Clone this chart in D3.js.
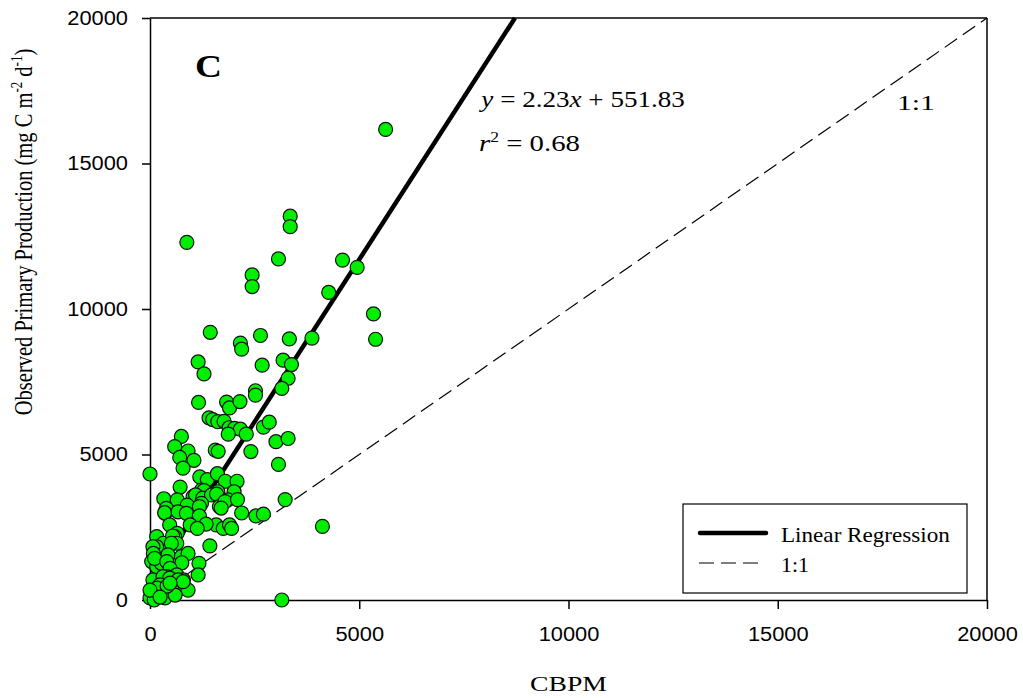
<!DOCTYPE html>
<html>
<head>
<meta charset="utf-8">
<script src="https://cdn.jsdelivr.net/npm/d3@7"></script>
<style>
  html, body { margin: 0; padding: 0; background: #fff; }
  svg { display: block; }
</style>
</head>
<body>
<svg id="chart" width="1023" height="698"></svg>
<script>
// ---- data ----
const cbpm = [
  5630, 880, 3350, 3350, 2440, 2440, 3070, 4600, 4950, 4270,
  5340, 5390, 1440, 2160, 2190, 2640, 3330, 3870, 1150, 1290,
  2680, 3180, 3380, 3300, 3150, 2520, 2520, 1160, 1830, 1900,
  2150, 1410, 1500, 1620, 1770, 1890, 2020, 2160, 2300, 1870,
  2710, 2850, 750, 590, 910, 710, 1050, 790, 1560, 1630,
  2410, 3010, 3300, 3070, 0, 1190, 1370, 1610, 1800, 2080,
  1230, 1290, 1620, 2010, 720, 330, 650, 1030, 1090, 1260,
  1470, 1590, 890, 1230, 1180, 1660, 1860, 1790, 2090, 390,
  360, 1700, 2190, 2530, 2710, 3230, 4120, 350, 670, 870,
  1180, 1580, 1750, 1900, 1950, 960, 1340, 470, 650, 590,
  1130, 1430, 3150, 160, 320, 160, 540, 640, 70, 510,
  430, 750, 910, 760, 1170, 1150, 80, 40, 160, 270,
  110, 400, 480, 640, 400, 800, 720, 910, 70, 310,
  470, 670, 790, 50, 120, 190, 310, 430, 530, 240,
  0, 100, 360, 600, 170, 410, 0, 240, 480
];
const observed = [
  16170, 12290, 13190, 12830, 11170, 10770, 11720, 11680, 11430, 10570,
  9830, 8960, 9200, 8830, 8620, 9090, 8970, 9000, 8180, 7770,
  8070, 8240, 8090, 7620, 7270, 7190, 7040, 6790, 6800, 6600,
  6820, 6260, 6200, 6130, 6140, 5920, 5900, 5870, 5700, 5700,
  5940, 6110, 5620, 5270, 5120, 4900, 4800, 4530, 5150, 5110,
  5100, 5440, 5550, 4660, 4330, 4230, 4140, 4340, 4080, 4080,
  3780, 3760, 3720, 3720, 3880, 3480, 3440, 3550, 3610, 3500,
  3610, 3640, 3260, 3320, 3210, 3210, 3440, 3380, 3450, 3150,
  2980, 3160, 2990, 2890, 2950, 3450, 2530, 3000, 3030, 2980,
  2890, 2580, 2460, 2580, 2460, 2580, 2610, 2580, 2290, 2180,
  2460, 1860, 0, 2180, 1950, 1830, 2200, 1950, 1830, 1950,
  1550, 1490, 1600, 1280, 1260, 860, 1600, 1320, 1140, 1260,
  1430, 1320, 1090, 860, 800, 690, 400, 340, 690, 800,
  750, 690, 630, 270, 170, 340, 240, 270, 340, 520,
  70, 0, 70, 170, 410, 480, 340, 100, 580
];
const xTicks = [0, 5000, 10000, 15000, 20000];
const yTicks = [0, 5000, 10000, 15000, 20000];
const slope = 2.23, intercept = 551.83;
const legendLabels = ["Linear Regression", "1:1"];

// ---- layout ----
const svg = d3.select("#chart");
const mLeft = 150, mRight = 987, mTop = 18, mBottom = 600;
const x = d3.scaleLinear().domain([0, 20000]).range([mLeft, mRight]);
const y = d3.scaleLinear().domain([0, 20000]).range([mBottom, mTop]);

const sans = "Liberation Sans, Arial, sans-serif";
const serif = "Liberation Serif, Times New Roman, serif";
const stretch = 1.12;

// horizontally fit a text element between two x positions
function fitX(sel, x0, x1) {
  const bb = sel.node().getBBox();
  const k = (x1 - x0) / bb.width;
  sel.attr("transform", `translate(${x0},0) scale(${k},1) translate(${-bb.x},0)`);
}

// frame (top & right)
svg.append("line").attr("x1", mLeft).attr("x2", mRight).attr("y1", mTop).attr("y2", mTop)
  .attr("stroke", "#000").attr("stroke-width", 1.5);
svg.append("line").attr("x1", mRight).attr("x2", mRight).attr("y1", mTop).attr("y2", mBottom)
  .attr("stroke", "#000").attr("stroke-width", 1.5);

// axes
const xAxis = d3.axisBottom(x).tickValues(xTicks).tickSize(9).tickSizeOuter(0).tickPadding(18).tickFormat(d3.format("d"));
const yAxis = d3.axisLeft(y).tickValues(yTicks).tickSize(8).tickSizeOuter(0).tickPadding(14).tickFormat(d3.format("d"));
const gx = svg.append("g").attr("transform", `translate(0,${mBottom})`).call(xAxis);
const gy = svg.append("g").attr("transform", `translate(${mLeft},0)`).call(yAxis);
[gx, gy].forEach(g => {
  g.select(".domain").attr("stroke", "#000").attr("stroke-width", 1.5);
  g.selectAll(".tick line").attr("stroke", "#000").attr("stroke-width", 1.5);
  g.selectAll(".tick text").attr("fill", "#000").style("font-family", sans).style("font-size", "19.5px");
});
gx.selectAll(".tick text").attr("transform", `scale(${stretch},1)`);
gy.selectAll(".tick text").attr("transform", `translate(-22,0) scale(${stretch},1) translate(22,0)`);

// 1:1 line
svg.append("line")
  .attr("x1", x(0)).attr("y1", y(0)).attr("x2", x(20000)).attr("y2", y(20000))
  .attr("stroke", "#000").attr("stroke-width", 1.2).attr("stroke-dasharray", "15,7");

// regression line
const xEnd = (20000 - intercept) / slope;
svg.append("line")
  .attr("x1", x(0)).attr("y1", y(intercept)).attr("x2", x(xEnd)).attr("y2", y(20000))
  .attr("stroke", "#000").attr("stroke-width", 4.5);

// points
svg.append("g").selectAll("circle")
  .data(cbpm.map((v, i) => [v, observed[i]]))
  .join("circle")
  .attr("cx", d => x(d[0])).attr("cy", d => y(d[1]))
  .attr("r", 7)
  .attr("fill", "#00ee00").attr("stroke", "#111").attr("stroke-width", 1.2);

// panel letter
const cl = svg.append("text").attr("x", 0).attr("y", 77).text("C")
  .style("font-family", serif).style("font-weight", "bold").style("font-size", "32px");
fitX(cl, 195, 222);

// equation
const eq = svg.append("text").attr("x", 0).attr("y", 107)
  .style("font-family", serif).style("font-size", "23px");
eq.append("tspan").style("font-style", "italic").text("y");
eq.append("tspan").text(" = 2.23");
eq.append("tspan").style("font-style", "italic").text("x");
eq.append("tspan").text(" + 551.83");
fitX(eq, 479, 685);
const r2 = svg.append("text").attr("x", 0).attr("y", 151)
  .style("font-family", serif).style("font-size", "23px");
r2.append("tspan").style("font-style", "italic").text("r");
r2.append("tspan").attr("dy", -9).style("font-size", "14px").text("2");
r2.append("tspan").attr("dy", 9).text(" = 0.68");
fitX(r2, 479, 580);

const one = svg.append("text").attr("x", 0).attr("y", 110).text("1:1")
  .style("font-family", serif).style("font-size", "22px");
fitX(one, 897, 935);

// axis titles
const xt = svg.append("text").attr("x", 0).attr("y", 691)
  .style("font-family", serif).style("font-size", "22px").text("CBPM");
fitX(xt, 530, 607);
const yt = svg.append("text").attr("transform", "translate(32,232) scale(1.25,1) rotate(-90)")
  .attr("text-anchor", "middle").style("font-family", serif).style("font-size", "20.5px");
yt.append("tspan").text("Observed Primary Production (mg C m");
yt.append("tspan").attr("dy", -8).style("font-size", "13px").text("-2");
yt.append("tspan").attr("dy", 8).text(" d");
yt.append("tspan").attr("dy", -8).style("font-size", "13px").text("-1");
yt.append("tspan").attr("dy", 8).text(")");

// legend
const lg = svg.append("g");
lg.append("rect").attr("x", 683).attr("y", 504).attr("width", 284).attr("height", 89)
  .attr("fill", "#fff").attr("stroke", "#000").attr("stroke-width", 1.2);
lg.append("line").attr("x1", 700).attr("x2", 766).attr("y1", 533).attr("y2", 533)
  .attr("stroke", "#000").attr("stroke-width", 4.5).attr("stroke-linecap", "round");
lg.append("line").attr("x1", 699).attr("x2", 761).attr("y1", 563).attr("y2", 563)
  .attr("stroke", "#000").attr("stroke-width", 1.2).attr("stroke-dasharray", "15,7");
const legendRight = [950, 809];
lg.selectAll("text.lab").data(legendLabels).join("text").attr("class", "lab")
  .attr("x", 0).attr("y", (d, i) => 542 + i * 30)
  .style("font-family", serif).style("font-size", "20px").text(d => d)
  .each(function(d, i) { fitX(d3.select(this), 781, legendRight[i]); });
</script>
</body>
</html>
